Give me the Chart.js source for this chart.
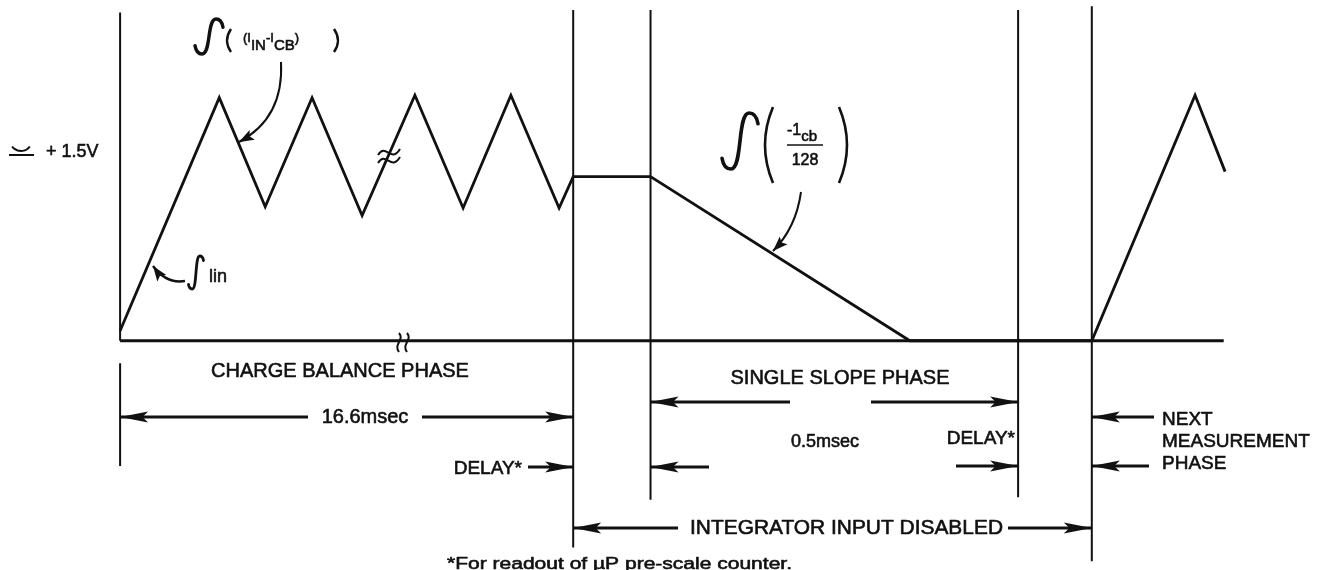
<!DOCTYPE html>
<html>
<head>
<meta charset="utf-8">
<script src="https://cdn.jsdelivr.net/npm/chart.js@4.4.0/dist/chart.umd.min.js"></script>
<style>
  html, body { margin: 0; padding: 0; background: #fff; }
</style>
</head>
<body>
<canvas id="timing" width="1327" height="570"></canvas>
<script>
// integrator output: time in diagram units (charge balance ends near 100), volts
const waveTime  = [0, 21.8, 31.9, 42.2, 53.2, 64.8, 75.4, 85.9, 96.5, 99.6, 116.6, 173.6, 213.6, 236.3, 242.9]
const waveVolts = [0.08, 1.94, 1.07, 1.94, 1.0, 1.96, 1.06, 1.96, 1.06, 1.31, 1.31, 0, 0, 1.96, 1.35]

// phase boundaries: start, end of charge balance, slope start, slope end, next measurement
const phaseEdges = [0, 99.6, 116.6, 197.4, 213.6]
const baselineEnd = 242.6

// how far each boundary line runs (volts, top and bottom)
const edgeTop    = [2.62, 2.64, 2.64, 2.64, 2.67]
const edgeBottom = [0, -1.65, -1.27, -1.25, -1.76]

const ink = '#111'
const FONT = '"Liberation Sans", Arial, Helvetica, sans-serif'

const datasets = [
  {
    data: waveTime.map((t, i) => ({ x: t, y: waveVolts[i] })),
    borderColor: ink, borderWidth: 2.8, borderJoinStyle: 'miter'
  },
  {
    data: [{ x: 0, y: 0 }, { x: baselineEnd, y: 0 }],
    borderColor: ink, borderWidth: 3
  },
  // short tick under the start of the cycle
  {
    data: [{ x: 0, y: -0.18 }, { x: 0, y: -1.0 }],
    borderColor: ink, borderWidth: 2
  }
]
phaseEdges.forEach((e, i) => {
  datasets.push({
    data: [{ x: e, y: edgeTop[i] }, { x: e, y: edgeBottom[i] }],
    borderColor: ink, borderWidth: 2
  })
})

function text(ctx, str, x, y, size, align, fitWidth) {
  ctx.save()
  ctx.font = size + 'px ' + FONT
  ctx.textBaseline = 'middle'
  ctx.textAlign = 'left'
  ctx.fillStyle = ink
  ctx.strokeStyle = ink
  ctx.lineWidth = 0.6
  ctx.lineJoin = 'round'
  const w = ctx.measureText(str).width
  const k = fitWidth ? fitWidth / w : 1
  const left = align === 'center' ? x - w * k / 2 : align === 'right' ? x - w * k : x
  ctx.translate(left, y)
  ctx.scale(k, 1)
  ctx.fillText(str, 0, 0)
  ctx.strokeText(str, 0, 0)
  ctx.restore()
  return left + w * k
}

function head(ctx, tx, ty, dx, dy, len, half) {
  const n = Math.hypot(dx, dy)
  const ux = dx / n, uy = dy / n
  ctx.beginPath()
  ctx.moveTo(tx, ty)
  ctx.lineTo(tx - ux * len - uy * half, ty - uy * len + ux * half)
  ctx.lineTo(tx - ux * len * 0.8, ty - uy * len * 0.8)
  ctx.lineTo(tx - ux * len + uy * half, ty - uy * len - ux * half)
  ctx.closePath()
  ctx.fill()
}

// straight dimension arrow, head at x1
function arrow(ctx, x0, x1, y) {
  ctx.beginPath()
  ctx.moveTo(x0, y)
  ctx.lineTo(x1, y)
  ctx.stroke()
  head(ctx, x1, y, x1 - x0, 0, 28, 5.5)
}

// curved pointer, head at (tx, ty)
function pointer(ctx, sx, sy, cx, cy, tx, ty) {
  ctx.beginPath()
  ctx.moveTo(sx, sy)
  ctx.quadraticCurveTo(cx, cy, tx, ty)
  ctx.stroke()
  head(ctx, tx, ty, tx - cx, ty - cy, 15, 5.5)
}

function integral(ctx, x, yTop, yBot, w, lw) {
  ctx.save()
  ctx.lineWidth = lw
  ctx.lineCap = 'round'
  ctx.beginPath()
  ctx.moveTo(x - w * 0.5, yBot - w * 0.3)
  ctx.quadraticCurveTo(x - w * 0.45, yBot, x - w * 0.25, yBot)
  ctx.bezierCurveTo(x + 0.08 * w, yBot, x - 0.08 * w, yTop, x + 0.25 * w, yTop)
  ctx.quadraticCurveTo(x + 0.45 * w, yTop, x + w * 0.5, yTop + w * 0.3)
  ctx.stroke()
  ctx.restore()
}

function paren(ctx, x, yTop, yBot, bulge, lw) {
  ctx.save()
  ctx.lineWidth = lw
  ctx.beginPath()
  ctx.moveTo(x, yTop)
  ctx.quadraticCurveTo(x - bulge * 2, (yTop + yBot) / 2, x, yBot)
  ctx.stroke()
  ctx.restore()
}

const notes = {
  id: 'notes',
  afterDatasetsDraw(chart) {
    const ctx = chart.ctx
    const X = v => chart.scales.x.getPixelForValue(v)
    const e = phaseEdges.map(X)
    ctx.save()
    ctx.strokeStyle = ink
    ctx.fillStyle = ink

    // level label
    ctx.lineWidth = 2
    ctx.beginPath()
    ctx.arc(21, 140, 11, Math.PI * 0.2, Math.PI * 0.8)
    ctx.moveTo(9, 155)
    ctx.lineTo(34, 155)
    ctx.stroke()
    text(ctx, '+ 1.5V', 46, 152, 18)

    // integral of the difference current
    integral(ctx, 209, 19, 54, 28, 3.4)
    paren(ctx, 231, 29, 52, 4, 2.4)
    let x = text(ctx, '(I', 243, 38, 13)
    x = text(ctx, 'IN', x, 46, 15)
    x = text(ctx, '-I', x, 38, 13)
    x = text(ctx, 'CB', x, 46, 15)
    text(ctx, ')', x, 38, 13)
    paren(ctx, 334, 29, 52, -4, 2.4)
    ctx.lineWidth = 2
    pointer(ctx, 281, 62, 284, 118, 239, 142)

    // input integral on the first ramp
    integral(ctx, 196, 256, 289, 15, 2.8)
    text(ctx, 'lin', 209, 277, 18)
    ctx.lineWidth = 2.4
    pointer(ctx, 185, 281, 166, 284, 153, 266)

    // reference integral on the slope
    integral(ctx, 740, 113, 169, 36, 3.6)
    paren(ctx, 773, 107, 183, 8, 2.6)
    paren(ctx, 839, 107, 183, -8, 2.6)
    x = text(ctx, '-1', 787, 131, 16)
    text(ctx, 'cb', x, 137, 15)
    ctx.lineWidth = 1.6
    ctx.beginPath()
    ctx.moveTo(787, 145)
    ctx.lineTo(823, 145)
    ctx.stroke()
    text(ctx, '128', 805, 161, 16, 'center')
    ctx.lineWidth = 2
    pointer(ctx, 801, 192, 796, 228, 773, 251)

    // time breaks
    ctx.lineWidth = 2
    ;[-4, 4].forEach(d => {
      ctx.beginPath()
      ctx.moveTo(378, 159 + d)
      ctx.bezierCurveTo(386, 146 + d, 391, 168 + d, 400, 153 + d)
      ctx.stroke()
    })
    ;[-4, 4].forEach(d => {
      ctx.beginPath()
      ctx.moveTo(403 + d, 333)
      ctx.bezierCurveTo(409 + d, 340, 397 + d, 344, 403 + d, 352)
      ctx.stroke()
    })

    // phase labels and dimensions
    ctx.lineWidth = 3
    text(ctx, 'CHARGE BALANCE PHASE', 340, 371, 20, 'center')
    arrow(ctx, 308, e[0], 417)
    text(ctx, '16.6msec', 365, 417, 20, 'center')
    arrow(ctx, 422, e[1], 417)

    text(ctx, 'DELAY*', 522, 469, 19, 'right')
    arrow(ctx, 528, e[1], 467)
    arrow(ctx, 709, e[2], 467)

    text(ctx, 'SINGLE SLOPE PHASE', 840, 378, 20, 'center')
    arrow(ctx, 790, e[2], 402)
    arrow(ctx, 871, e[3], 402)
    text(ctx, '0.5msec', 825, 442, 18, 'center')
    text(ctx, 'DELAY*', 1015, 439, 19, 'right')
    arrow(ctx, 956, e[3], 466)
    arrow(ctx, 1149, e[4], 466)

    arrow(ctx, 1154, e[4], 417)
    text(ctx, 'NEXT', 1162, 420, 19)
    text(ctx, 'MEASUREMENT', 1162, 442, 19)
    text(ctx, 'PHASE', 1162, 464, 19)

    arrow(ctx, 678, e[1], 528)
    text(ctx, 'INTEGRATOR INPUT DISABLED', 690, 528, 20, 'left', 313)
    arrow(ctx, 1008, e[4], 528)

    text(ctx, '*For readout of \u00b5P pre-scale counter.', 447, 564, 17, 'left', 345)
    ctx.restore()
  }
}

const timingConfig = {
  type: 'line',
  data: { datasets },
  options: {
    responsive: false,
    animation: false,
    events: [],
    layout: { padding: 0 },
    elements: {
      point: { radius: 0 },
      line: { tension: 0, fill: false }
    },
    datasets: { line: { clip: false } },
    plugins: {
      legend: { display: false },
      tooltip: { enabled: false }
    },
    scales: {
      x: { type: 'linear', min: -26.4, max: 265.3, display: false },
      y: { type: 'linear', min: -1.83, max: 2.72, display: false }
    }
  },
  plugins: [notes]
}

const timing = document.getElementById('timing')
window.myTiming = new Chart(timing, timingConfig)
</script>
</body>
</html>
